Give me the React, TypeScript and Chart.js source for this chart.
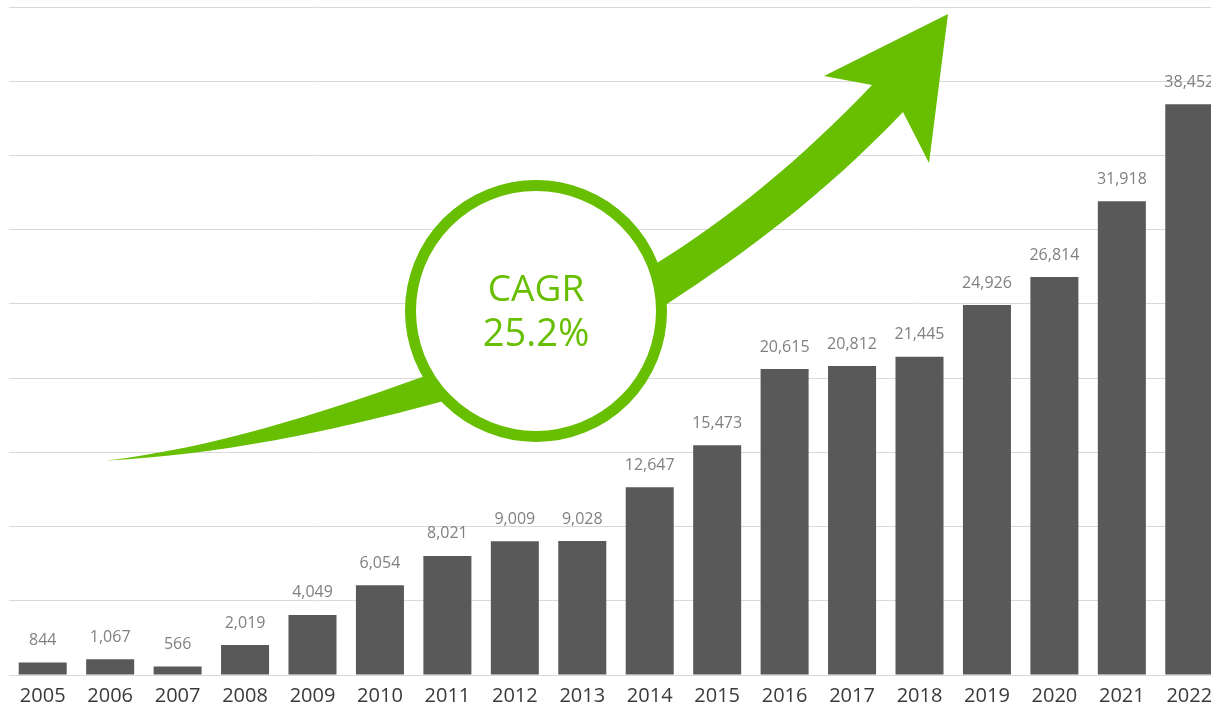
import React, { useEffect, useRef } from "react";
import { Chart, registerables } from "chart.js";

Chart.register(...registerables);

const years = ["2005","2006","2007","2008","2009","2010","2011","2012","2013","2014","2015","2016","2017","2018","2019","2020","2021","2022"];
const values = [844,1067,566,2019,4049,6054,8021,9009,9028,12647,15473,20615,20812,21445,24926,26814,31918,38452];
const yMax = 45000;
const yStep = 5000;
const cagrLines = ["CAGR", "25.2%"];

const GREEN = "#68BE00";

// decoration: [x, y, slope] knots for Hermite curves
type K = [number, number, number];
const arrowUpper: K[] = [[107,460.5,-0.12],[422,377,-0.36],[657,263,-0.62],[872,85,-1.05]];
const arrowHead: [number, number][] = [[824,76],[948,14],[929,163],[903,112]];
const arrowLower: K[] = [[903,112,-1.05],[667,304,-0.65],[440,402,-0.27],[107,460.5,-0.05]];
const circle = { x: 536, y: 311, r: 125.5, w: 11 };

function hermite(ctx: CanvasRenderingContext2D, pts: K[]) {
  for (let i = 0; i < pts.length - 1; i++) {
    const [x1, y1, s1] = pts[i];
    const [x2, y2, s2] = pts[i + 1];
    const d = (x2 - x1) / 3;
    ctx.bezierCurveTo(x1 + d, y1 + s1 * d, x2 - d, y2 - s2 * d, x2, y2);
  }
}

const decoPlugin = {
  id: "deco",
  afterDatasetsDraw(chart: any) {
    const ctx: CanvasRenderingContext2D = chart.ctx;
    ctx.save();
    // arrow
    ctx.beginPath();
    ctx.moveTo(arrowUpper[0][0], arrowUpper[0][1]);
    hermite(ctx, arrowUpper);
    arrowHead.forEach((p) => ctx.lineTo(p[0], p[1]));
    hermite(ctx, arrowLower);
    ctx.closePath();
    ctx.fillStyle = GREEN;
    ctx.fill();
    // circle
    ctx.beginPath();
    ctx.arc(circle.x, circle.y, circle.r, 0, Math.PI * 2);
    ctx.fillStyle = "#ffffff";
    ctx.fill();
    ctx.lineWidth = circle.w;
    ctx.strokeStyle = GREEN;
    ctx.stroke();
    ctx.fillStyle = GREEN;
    ctx.textAlign = "center";
    ctx.textBaseline = "middle";
    ctx.font = "37px 'Open Sans'";
    ctx.fillText(cagrLines[0], circle.x, circle.y - 21);
    ctx.font = "38px 'Open Sans'";
    ctx.fillText(cagrLines[1], circle.x, circle.y + 24);
    // data labels
    const meta = chart.getDatasetMeta(0);
    ctx.font = "16px 'Open Sans'";
    ctx.fillStyle = "#808080";
    meta.data.forEach((bar: any, i: number) => {
      ctx.fillText(values[i].toLocaleString("en-US"), bar.x, bar.y - 22);
    });
    ctx.restore();
  },
};

export default function App() {
  const ref = useRef<HTMLCanvasElement>(null);
  useEffect(() => {
    if (!ref.current) return;
    const chart = new Chart(ref.current, {
      type: "bar",
      data: {
        labels: years,
        datasets: [
          {
            data: values,
            backgroundColor: "#595959",
            barPercentage: 0.712,
            categoryPercentage: 1,
          },
        ],
      },
      options: {
        responsive: false,
        animation: false,
        layout: { padding: { left: 9, top: 7, right: 1, bottom: 0 } },
        plugins: { legend: { display: false }, tooltip: { enabled: false } },
        scales: {
          x: {
            grid: { display: false, drawTicks: false },
            border: { display: false },
            ticks: {
              color: "#3a3a3a",
              font: { family: "'Open Sans'", size: 20 },
              padding: 9,
              maxRotation: 0,
              autoSkip: false,
            },
            afterFit: (s: any) => {
              s.height = 32;
            },
          },
          y: {
            min: 0,
            max: yMax,
            ticks: { display: false, stepSize: yStep },
            grid: { color: "#d9d9d9", lineWidth: 1, drawTicks: false },
            border: { display: false },
          },
        },
      },
      plugins: [decoPlugin],
    });
    return () => chart.destroy();
  }, []);
  return (
    <div style={{ position: "fixed", left: 0, top: 0, width: 1211, height: 707, overflow: "hidden", background: "#fff" }}>
      <canvas ref={ref} width={1224} height={707} style={{ display: "block", width: 1224, height: 707 }} />
    </div>
  );
}
